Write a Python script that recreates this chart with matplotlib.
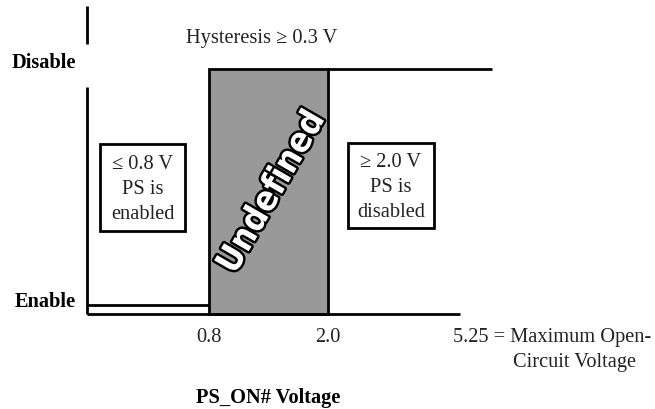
import matplotlib
matplotlib.use("Agg")
import matplotlib.pyplot as plt
from matplotlib.patches import Rectangle
import matplotlib.patheffects as pe
from matplotlib import font_manager

# ---- data (schematic values) ----
thresholds = [0.8, 2.0]            # enable / disable thresholds (V)
tick_labels = ["0.8", "2.0"]
levels = {"Enable": 0.0, "Disable": 1.0}
axis_start = -0.43                 # schematic origin of the voltage axis
disable_end = 3.65                 # end of the disable level line
axis_end = 3.33                    # end of the horizontal axis line
axis_floor = -0.038                # vertical position of the horizontal axis
axis_top = 1.267
label_gap = [0.924, 1.106]         # gap in the vertical axis for "Disable"

W, H = 655, 410
fig = plt.figure(figsize=(W / 100, H / 100), dpi=100)
ax = fig.add_axes([0, 0, 1, 1])
ax.set_axis_off()

sx = (328 - 209) / (thresholds[1] - thresholds[0])
sy = 306 - 70
ax.set_xlim(thresholds[0] - 209 / sx, thresholds[0] + (W - 209) / sx)
ax.set_ylim((306 - H) / sy, 306 / sy)

def px(x, y):
    return x / W, 1 - y / H

lw = 2.0
en, dis = levels["Enable"], levels["Disable"]
lo, hi = thresholds

ax.add_patch(Rectangle((lo, axis_floor), hi - lo, dis - axis_floor,
                       facecolor="#999999", edgecolor="black", lw=lw, zorder=2))
ax.plot([axis_start, lo], [en, en], color="black", lw=lw, solid_capstyle="butt", zorder=3)
ax.plot([hi, disable_end], [dis, dis], color="black", lw=lw, solid_capstyle="butt", zorder=3)
ax.plot([axis_start, axis_end], [axis_floor, axis_floor], color="black", lw=lw,
        solid_capstyle="butt", zorder=3)
ax.plot([axis_start, axis_start], [axis_floor, label_gap[0]], color="black", lw=lw,
        solid_capstyle="butt", zorder=3)
ax.plot([axis_start, axis_start], [label_gap[1], axis_top], color="black", lw=lw,
        solid_capstyle="butt", zorder=3)

serif = "Liberation Serif"
tcol = "#222222"
fs = 14.7

fig.text(*px(76, 63), "Disable", family=serif, weight="bold", fontsize=fs,
         ha="right", va="center", color="black")
fig.text(*px(76, 302), "Enable", family=serif, weight="bold", fontsize=fs,
         ha="right", va="center", color="black")

fig.text(*px(186, 38), "Hysteresis \u2265 0.3 V", family=serif, fontsize=fs,
         ha="left", va="center", color=tcol)

def box(x0, y0, x1, y1, txt):
    fig.patches.append(Rectangle(px(x0, y1), (x1 - x0) / W, (y1 - y0) / H,
                                 transform=fig.transFigure, facecolor="white",
                                 edgecolor="black", lw=lw, zorder=4))
    fig.text(*px((x0 + x1) / 2, (y0 + y1) / 2 + 1), txt, family=serif, fontsize=fs,
             ha="center", va="center", color=tcol, linespacing=1.4, zorder=5)

box(100, 145, 185, 232, "\u2264 0.8 V\nPS is\nenabled")
box(348, 144, 434, 229, "\u2265 2.0 V\nPS is\ndisabled")

# pick a condensed bold sans if available
cond = None
for f in font_manager.fontManager.ttflist:
    if f.name in ("Liberation Sans Narrow", "DejaVu Sans Condensed") or \
       (f.name == "DejaVu Sans" and "ondensed" in f.fname and "Bold" in f.fname):
        cond = f.fname
        if "Bold" in f.fname:
            break
if cond:
    ufont = font_manager.FontProperties(fname=cond, size=25)
else:
    ufont = font_manager.FontProperties(family="DejaVu Sans", weight="bold", size=22)

ax.text((lo + hi) / 2 + 0.03, 0.48, "Undefined", rotation=60, ha="center", va="center",
        fontproperties=ufont, color="white", zorder=6,
        path_effects=[pe.withStroke(linewidth=3.5, foreground="black")])

for t, lab in zip(thresholds, tick_labels):
    ax.text(t, (306 - 338) / sy, lab, family=serif, fontsize=fs, ha="center",
            va="center", color=tcol)

fig.text(*px(453, 338), "5.25 = Maximum Open-", family=serif, fontsize=fs,
         ha="left", va="center", color=tcol)
fig.text(*px(513, 363), "Circuit Voltage", family=serif, fontsize=fs,
         ha="left", va="center", color=tcol)

fig.text(*px(268, 398), "PS_ON# Voltage", family=serif, weight="bold", fontsize=fs,
         ha="center", va="center", color="black")

fig.savefig("out.png", dpi=100)
